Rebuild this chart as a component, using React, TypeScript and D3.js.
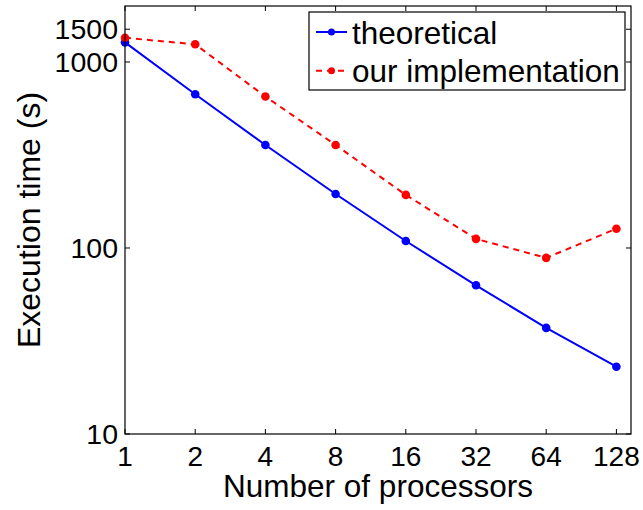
import React from "react";
import * as d3 from "d3";

const processors = ["1", "2", "4", "8", "16", "32", "64", "128"];
const theoretical = [1275, 671, 358, 195, 109, 63, 37.2, 23.0];
const ourImplementation = [1349, 1245, 652, 358, 193, 112, 88.5, 127];
const yTicks = [10, 100, 1000, 1500];
const yTickLabels = ["10", "100", "1000", "1500"];

const W = 643;
const H = 510;
const left = 125;
const right = 631;
const top = 6;
const bottom = 434;
const FONT = "Liberation Sans, Arial, Helvetica, sans-serif";

export default function App() {
  const x = d3
    .scalePoint<string>()
    .domain(processors)
    .range([left, left + 7 * 70.2]);
  const y = d3.scaleLog().domain([10, 2000]).range([bottom, top]);

  const line = d3
    .line<number>()
    .x((_, i) => x(processors[i]) as number)
    .y((d) => y(d));

  const tickLen = 5;

  return (
    <svg
      width={W}
      height={H}
      style={{ position: "absolute", left: 0, top: 0, background: "#fff", fontFamily: FONT }}
    >
      <rect x={0} y={0} width={W} height={H} fill="#fff" />
      {/* series */}
      <path d={line(theoretical) || ""} fill="none" stroke="#0000ff" strokeWidth={2} />
      <path
        d={line(ourImplementation) || ""}
        fill="none"
        stroke="#ff0000"
        strokeWidth={2}
        strokeDasharray="6,5"
      />
      {theoretical.map((d, i) => (
        <circle key={"t" + i} cx={x(processors[i])} cy={y(d)} r={4.3} fill="#0000ff" />
      ))}
      {ourImplementation.map((d, i) => (
        <circle key={"o" + i} cx={x(processors[i])} cy={y(d)} r={4.3} fill="#ff0000" />
      ))}

      {/* axes box */}
      <rect
        x={left}
        y={top}
        width={right - left}
        height={bottom - top}
        fill="none"
        stroke="#000"
        strokeWidth={1.2}
      />
      {/* x ticks */}
      {processors.map((p) => {
        const px = x(p) as number;
        return (
          <g key={"xt" + p}>
            <line x1={px} x2={px} y1={bottom} y2={bottom - tickLen} stroke="#000" />
            <line x1={px} x2={px} y1={top} y2={top + tickLen} stroke="#000" />
            <text x={px} y={466} fontSize={28} textAnchor="middle" fill="#000" style={{ fontFamily: FONT }}>
              {p}
            </text>
          </g>
        );
      })}
      {/* y ticks */}
      {yTicks.map((t, i) => {
        const py = y(t);
        return (
          <g key={"yt" + t}>
            <line x1={left} x2={left + tickLen} y1={py} y2={py} stroke="#000" />
            <line x1={right} x2={right - tickLen} y1={py} y2={py} stroke="#000" />
            <text x={118} y={py + 10.2} fontSize={28.5} textAnchor="end" fill="#000" style={{ fontFamily: FONT }}>
              {yTickLabels[i]}
            </text>
          </g>
        );
      })}

      {/* axis labels */}
      <text
        x={(left + right) / 2}
        y={497}
        fontSize={31.5}
        textAnchor="middle"
        fill="#000"
        style={{ fontFamily: FONT }}
      >
        Number of processors
      </text>
      <text
        transform={`translate(40, ${(top + bottom) / 2}) rotate(-90)`}
        fontSize={32}
        textAnchor="middle"
        fill="#000"
        style={{ fontFamily: FONT }}
      >
        Execution time (s)
      </text>

      {/* legend */}
      <rect x={309} y={12} width={316} height={78} fill="#fff" stroke="#000" strokeWidth={1.2} />
      <line x1={316} x2={347} y1={32} y2={32} stroke="#0000ff" strokeWidth={2} />
      <circle cx={331.5} cy={32} r={3.5} fill="#0000ff" />
      <text x={352} y={44} fontSize={31.5} fill="#000" style={{ fontFamily: FONT }}>
        theoretical
      </text>
      <line
        x1={316}
        x2={347}
        y1={70.7}
        y2={70.7}
        stroke="#ff0000"
        strokeWidth={2}
        strokeDasharray="6,5"
      />
      <circle cx={331.5} cy={70.7} r={3.5} fill="#ff0000" />
      <text x={352} y={82} fontSize={31.5} fill="#000" style={{ fontFamily: FONT }}>
        our implementation
      </text>
    </svg>
  );
}
